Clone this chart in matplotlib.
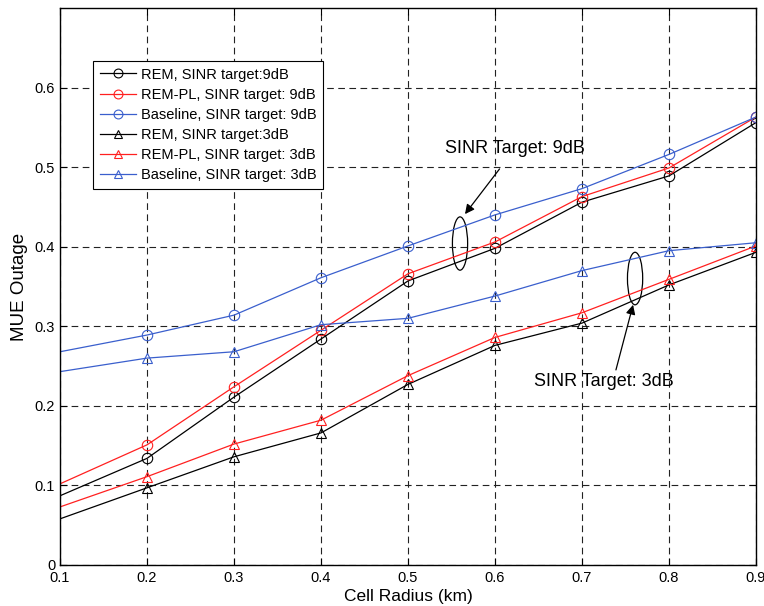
import matplotlib
matplotlib.use("Agg")
import matplotlib.pyplot as plt
from matplotlib.patches import Ellipse

plt.rcParams['font.family'] = ['Liberation Sans', 'DejaVu Sans']

cell_radius = [0.1, 0.2, 0.3, 0.4, 0.5, 0.6, 0.7, 0.8, 0.9]

rem_9db = [0.087, 0.134, 0.211, 0.284, 0.357, 0.398, 0.456, 0.489, 0.556]
rempl_9db = [0.102, 0.151, 0.224, 0.295, 0.366, 0.406, 0.463, 0.499, 0.563]
base_9db = [0.268, 0.289, 0.314, 0.361, 0.401, 0.440, 0.473, 0.516, 0.563]
rem_3db = [0.058, 0.097, 0.136, 0.166, 0.227, 0.276, 0.304, 0.352, 0.393]
rempl_3db = [0.073, 0.111, 0.152, 0.182, 0.238, 0.286, 0.317, 0.359, 0.401]
base_3db = [0.243, 0.260, 0.268, 0.302, 0.310, 0.338, 0.370, 0.395, 0.405]

labels = ["REM, SINR target:9dB", "REM-PL, SINR target: 9dB",
          "Baseline, SINR target: 9dB", "REM, SINR target:3dB",
          "REM-PL, SINR target: 3dB", "Baseline, SINR target: 3dB"]

xticks = [0.1, 0.2, 0.3, 0.4, 0.5, 0.6, 0.7, 0.8, 0.9]
yticks = [0, 0.1, 0.2, 0.3, 0.4, 0.5, 0.6]

BLACK = '#000000'
RED = '#ff2020'
BLUE = '#3a5fcd'

fig = plt.figure(figsize=(7.64, 6.06), dpi=100)
ax = fig.add_axes([60/764, 41/606, 696/764, 557/606])

series = [rem_9db, rempl_9db, base_9db, rem_3db, rempl_3db, base_3db]
colors = [BLACK, RED, BLUE, BLACK, RED, BLUE]
markers = ['o', 'o', 'o', '^', '^', '^']
for ys, c, m, lab in zip(series, colors, markers, labels):
    ax.plot(cell_radius, ys, color=c, marker=m, markerfacecolor='none',
            markeredgecolor=c, markersize=7.5, markeredgewidth=0.8,
            linewidth=0.9, label=lab, markevery=list(range(1, len(ys))))

ax.set_xlim(0.1, 0.9)
ax.set_ylim(0, 0.7)
ax.set_xticks(xticks)
ax.set_xticklabels([f"{v:g}" for v in xticks])
ax.set_yticks(yticks)
ax.set_yticklabels([f"{v:g}" for v in yticks])
ax.tick_params(direction='in', top=True, right=True, labelsize=10.5, length=5, width=0.8)
ax.tick_params(axis='x', pad=4)
ax.grid(True, color='#222222', linestyle=(0, (6, 4)), linewidth=0.8)
for s in ax.spines.values():
    s.set_linewidth(1.0)

ax.set_xlabel("Cell Radius (km)", fontsize=12.5, labelpad=3)
ax.set_ylabel("MUE Outage", fontsize=13.5, labelpad=5)

leg = ax.legend(loc='upper left', bbox_to_anchor=(33/696, 504/557), fontsize=10.5,
                frameon=True, fancybox=False, edgecolor='black', framealpha=1,
                borderpad=0.45, labelspacing=0.42, handlelength=2.5, handletextpad=0.35,
                borderaxespad=0, markerscale=0.85)
leg.get_frame().set_linewidth(0.8)

# ellipses
ax.add_patch(Ellipse((0.5598, 0.404), 0.0175, 0.067, fill=False, edgecolor='black', linewidth=0.9))
ax.add_patch(Ellipse((0.761, 0.360), 0.0175, 0.066, fill=False, edgecolor='black', linewidth=0.9))

ax.annotate("SINR Target: 9dB", xy=(0.5655, 0.441), xytext=(0.5425, 0.523),
            fontsize=13, ha='left', va='center',
            arrowprops=dict(arrowstyle='-|>', color='black', lw=0.9,
                            shrinkA=8, shrinkB=0, mutation_scale=14))
ax.annotate("SINR Target: 3dB", xy=(0.7587, 0.327), xytext=(0.645, 0.231),
            fontsize=13, ha='left', va='center',
            arrowprops=dict(arrowstyle='-|>', color='black', lw=0.9,
                            shrinkA=0, shrinkB=0, mutation_scale=14,
                            relpos=(0.58, 1.0)))

fig.savefig("out.png", dpi=100)
